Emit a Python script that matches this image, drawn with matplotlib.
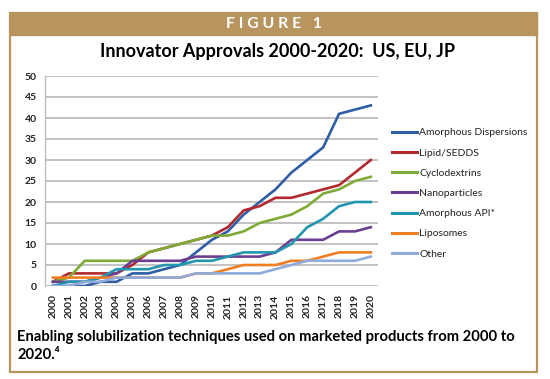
import matplotlib
matplotlib.use("Agg")
import matplotlib.pyplot as plt
from matplotlib.patches import Rectangle

years = list(range(2000, 2021))
year_labels = [str(y) for y in years]

amorphous_dispersions = [0, 0, 0, 1, 1, 3, 3, 4, 5, 8, 11, 13, 17, 20, 23, 27, 30, 33, 41, 42, 43]
lipid_sedds = [1, 3, 3, 3, 3, 5, 8, 9, 10, 11, 12, 14, 18, 19, 21, 21, 22, 23, 24, 27, 30]
cyclodextrins = [1, 2, 6, 6, 6, 6, 8, 9, 10, 11, 12, 12, 13, 15, 16, 17, 19, 22, 23, 25, 26]
nanoparticles = [1, 1, 1, 2, 3, 6, 6, 6, 6, 7, 7, 7, 7, 7, 8, 11, 11, 11, 13, 13, 14]
amorphous_api = [0, 1, 1, 2, 4, 4, 4, 5, 5, 6, 6, 7, 8, 8, 8, 10, 14, 16, 19, 20, 20]
liposomes = [2, 2, 2, 2, 2, 2, 2, 2, 2, 3, 3, 4, 5, 5, 5, 6, 6, 7, 8, 8, 8]
other = [0, 0, 1, 1, 2, 2, 2, 2, 2, 3, 3, 3, 3, 3, 4, 5, 6, 6, 6, 6, 7]

series_names = ["Amorphous Dispersions", "Lipid/SEDDS", "Cyclodextrins", "Nanoparticles",
                "Amorphous API*", "Liposomes", "Other"]
series_values = [amorphous_dispersions, lipid_sedds, cyclodextrins, nanoparticles,
                 amorphous_api, liposomes, other]
series_colors = ["#2E5EA6", "#B2292E", "#7EAA36", "#6A3F92", "#2196AE", "#EF7F22", "#8FAADB"]

W, H = 550, 379
fig = plt.figure(figsize=(W / 100, H / 100), dpi=100)

def fx(x):
    return x / W

def fy(y):
    return 1 - y / H

tan = "#B8955F"
# outer frame
fig.patches.append(Rectangle((fx(10), fy(372)), fx(537) - fx(10), fy(12.5) - fy(372),
                             transform=fig.transFigure, fill=False, edgecolor=tan, linewidth=1.6))
# header band
fig.patches.append(Rectangle((fx(10), fy(35)), fx(537) - fx(10), fy(12.5) - fy(35),
                             transform=fig.transFigure, facecolor=tan, edgecolor=tan, linewidth=1.0))
fig.text(fx(274), fy(24), "F I G U R E   1", color="white", fontsize=11.3, fontweight="bold",
         family=["Lato", "DejaVu Sans"], ha="center", va="center")
fig.text(fx(278), fy(52), "Innovator Approvals 2000-2020:  US, EU, JP", color="black",
         fontsize=13, fontweight="bold", family=["Lato", "DejaVu Sans"], ha="center", va="center")

ax = fig.add_axes([fx(45), fy(286), fx(378) - fx(45), fy(76) - fy(286)])
for name, vals, col in zip(series_names, series_values, series_colors):
    ax.plot(years, vals, color=col, linewidth=1.9, label=name, solid_joinstyle="miter")

ax.set_xlim(1999.5, 2020.45)
ax.set_ylim(0, 50)
ax.set_yticks(range(0, 51, 5))
ax.set_xticks(years)
ax.set_xticklabels(year_labels, rotation=90)
ax.yaxis.grid(True, color="#BDBDBD", linewidth=1.3)
ax.set_axisbelow(True)
for s in ["top", "right", "bottom"]:
    ax.spines[s].set_visible(False)
ax.spines["left"].set_color("#BDBDBD")
ax.spines["left"].set_linewidth(1.0)
ax.tick_params(axis="both", length=0, labelsize=7.5, labelcolor="#222222")
ax.tick_params(axis="y", pad=6)
ax.tick_params(axis="x", pad=6)
for lab in ax.get_xticklabels() + ax.get_yticklabels():
    lab.set_fontweight("bold")
    lab.set_family(["Lato", "DejaVu Sans"])

leg = ax.legend(loc="upper left", bbox_to_anchor=(fx(392), fy(128)), bbox_transform=fig.transFigure,
                frameon=False, handlelength=2.4, handletextpad=0.2, labelspacing=1.05,
                borderaxespad=0, borderpad=0, prop={"family": ["Lato", "DejaVu Sans"], "size": 7.5})
for t in leg.get_texts():
    t.set_color("#222222")
for l in leg.get_lines():
    l.set_linewidth(2.2)

fig.text(fx(17.5), fy(337), "Enabling solubilization techniques used on marketed products from 2000 to",
         fontsize=10.6, fontweight="bold", family=["Lato", "DejaVu Sans"], ha="left", va="center")
fig.text(fx(17.5), fy(355), "2020.\u2074", fontsize=10.6, fontweight="bold",
         family=["Lato", "DejaVu Sans"], ha="left", va="center")

fig.savefig("out.png", dpi=100)
